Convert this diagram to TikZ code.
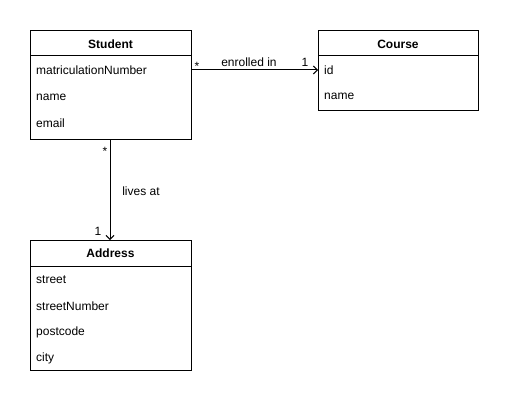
\documentclass[tikz,border=0pt]{standalone}
\usepackage{fontspec}
\setmainfont{Liberation Sans}
\usetikzlibrary{arrows.meta}
\begin{document}
\begin{tikzpicture}[x=1pt,y=-1pt,
  box/.style={draw,line width=1pt},
  attr/.style={anchor=west,inner sep=0pt,font=\fontsize{12}{14}\selectfont},
  head/.style={inner sep=0pt,font=\fontsize{12}{14}\selectfont\bfseries},
  lbl/.style={inner sep=0pt,font=\fontsize{12}{14}\selectfont},
  conn/.style={line width=1pt,-{Straight Barb[length=4pt,width=8pt,line width=1pt]}}]
\useasboundingbox (0,0) rectangle (509,404);
% Student
\draw[box] (30,31) rectangle (191,139);
\draw[line width=1pt] (30,56) -- (191,56);
\node[head] (sh) at (110.5,44) {Student};
\node[attr] (s1) at (36,70) {matriculationNumber};
\node[attr] (s2) at (36,97) {name};
\node[attr] (s3) at (36,123) {email};
\coordinate (sE) at (191,70);
\coordinate (sS) at (110,139);
% Course
\draw[box] (318,31) rectangle (478,110);
\draw[line width=1pt] (318,56) -- (478,56);
\node[head] (ch) at (398,44) {Course};
\node[attr] (c1) at (324,70) {id};
\node[attr] (c2) at (324,96) {name};
\coordinate (cW) at (318,70);
% Address
\draw[box] (30,240) rectangle (191,370);
\draw[line width=1pt] (30,266) -- (191,266);
\node[head] (ah) at (110.5,253) {Address};
\node[attr] (a1) at (36,280) {street};
\node[attr] (a2) at (36,306) {streetNumber};
\node[attr] (a3) at (36,332) {postcode};
\node[attr] (a4) at (36,358) {city};
\coordinate (aN) at (110,240);
% connectors
\draw[conn] (sE) -- (cW);
\draw[conn] (sS) -- (aN);
\node[lbl] (m1) at (197,66) {*};
\node[lbl] (m2) at (249,62) {enrolled in};
\node[lbl] (m3) at (305,62) {1};
\node[lbl] (m4) at (105,151) {*};
\node[lbl] (m5) at (141,191) {lives at};
\node[lbl] (m6) at (98,231) {1};
\end{tikzpicture}
\end{document}
